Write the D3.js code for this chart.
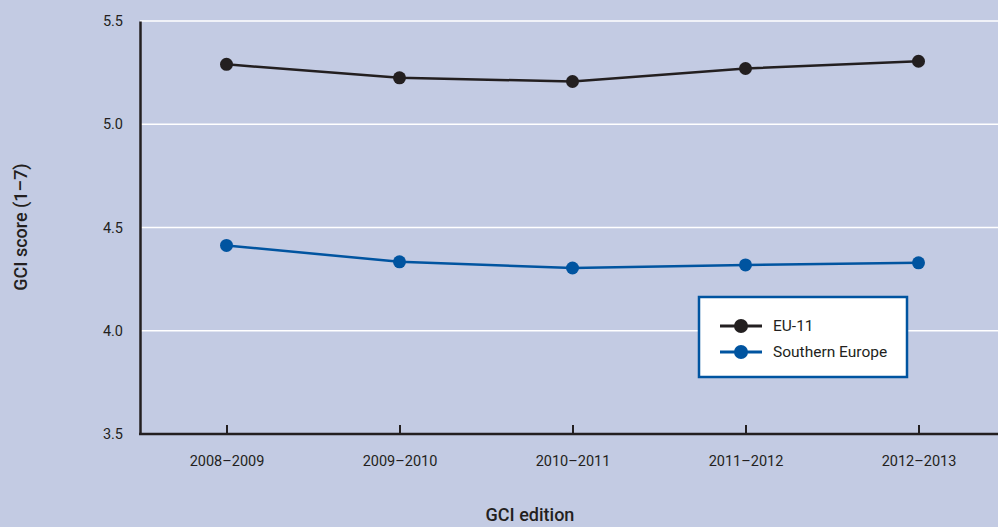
<!DOCTYPE html>
<html>
<head>
<meta charset="utf-8">
<script src="https://cdn.jsdelivr.net/npm/d3@7"></script>
<style>
  body { margin: 0; background: #c3cbe3; }
  svg { display: block; font-family: "Roboto", sans-serif; }
</style>
</head>
<body>
<div id="chart-area"></div>
<script>
// dados
const editions = ["2008–2009", "2009–2010", "2010–2011", "2011–2012", "2012–2013"]
const eu11 = [5.29, 5.225, 5.207, 5.27, 5.305]
const southern = [4.413, 4.334, 4.304, 4.319, 4.329]
const yTicks = [3.5, 4.0, 4.5, 5.0, 5.5]

const W = 998, H = 527
const MARGIN = { LEFT: 140, TOP: 21, BOTTOM: 434 }

const svg = d3.select("#chart-area").append("svg")
  .attr("width", W)
  .attr("height", H)

svg.append("rect").attr("width", W).attr("height", H).attr("fill", "#c3cbe3")

// escalas
const x = d3.scalePoint()
  .domain(editions)
  .range([MARGIN.LEFT, 1005])
  .padding(0.5)

const y = d3.scaleLinear()
  .domain([3.5, 5.5])
  .range([MARGIN.BOTTOM, MARGIN.TOP])

// grade
svg.append("g")
  .selectAll("line")
  .data(yTicks.filter(d => d > 3.5))
  .enter().append("line")
    .attr("x1", MARGIN.LEFT).attr("x2", W)
    .attr("y1", d => y(d)).attr("y2", d => y(d))
    .attr("stroke", "#fff")
    .attr("stroke-width", 1.5)

// eixo Y
const yAxis = svg.append("g")
  .attr("transform", `translate(${MARGIN.LEFT},0)`)
  .call(d3.axisLeft(y).tickValues(yTicks).tickFormat(d3.format(".1f")).tickSize(0).tickPadding(17))
yAxis.select(".domain").attr("stroke", "#231f20").attr("stroke-width", 2.5)
yAxis.selectAll("text").attr("font-size", "14.5px").attr("fill", "#231f20")
  .attr("font-family", "Roboto, sans-serif")

// eixo X
const xAxis = svg.append("g")
  .attr("transform", `translate(0,${MARGIN.BOTTOM})`)
  .call(d3.axisBottom(x).tickSize(-9).tickPadding(22))
xAxis.select(".domain").remove()
xAxis.append("line")
  .attr("x1", MARGIN.LEFT - 1).attr("x2", W)
  .attr("stroke", "#231f20").attr("stroke-width", 2.5)
xAxis.selectAll(".tick line").attr("stroke", "#231f20").attr("stroke-width", 2)
xAxis.selectAll("text").attr("font-size", "14.5px").attr("fill", "#231f20")
  .attr("font-family", "Roboto, sans-serif")

// títulos
svg.append("text")
  .attr("x", 530).attr("y", 521)
  .attr("text-anchor", "middle")
  .attr("font-size", "18px")
  .attr("font-weight", 500)
  .attr("fill", "#231f20")
  .text("GCI edition")

svg.append("text")
  .attr("transform", "translate(27,227) rotate(-90)")
  .attr("text-anchor", "middle")
  .attr("font-size", "18px")
  .attr("font-weight", 500)
  .attr("fill", "#231f20")
  .text("GCI score (1–7)")

// séries
const series = [
  { name: "EU-11", values: eu11, color: "#231f20" },
  { name: "Southern Europe", values: southern, color: "#0054a0" }
]

const line = d3.line()
  .x((d, i) => x(editions[i]))
  .y(d => y(d))

series.forEach(s => {
  svg.append("path")
    .datum(s.values)
    .attr("d", line)
    .attr("fill", "none")
    .attr("stroke", s.color)
    .attr("stroke-width", 2.5)
  svg.append("g").selectAll("circle")
    .data(s.values)
    .enter().append("circle")
      .attr("cx", (d, i) => x(editions[i]))
      .attr("cy", d => y(d))
      .attr("r", 6.5)
      .attr("fill", s.color)
})

// legenda
const legend = svg.append("g").attr("transform", "translate(699,297)")
legend.append("rect")
  .attr("width", 208).attr("height", 80)
  .attr("fill", "#fff")
  .attr("stroke", "#0054a0")
  .attr("stroke-width", 2.5)

series.forEach((s, i) => {
  const row = legend.append("g").attr("transform", `translate(0,${29 + i * 26})`)
  row.append("line")
    .attr("x1", 21).attr("x2", 63)
    .attr("stroke", s.color).attr("stroke-width", 3)
  row.append("circle").attr("cx", 42).attr("r", 7).attr("fill", s.color)
  row.append("text")
    .attr("x", 74).attr("y", 5)
    .attr("font-size", "15.5px")
    .attr("fill", "#231f20")
    .text(s.name)
})
</script>
</body>
</html>
